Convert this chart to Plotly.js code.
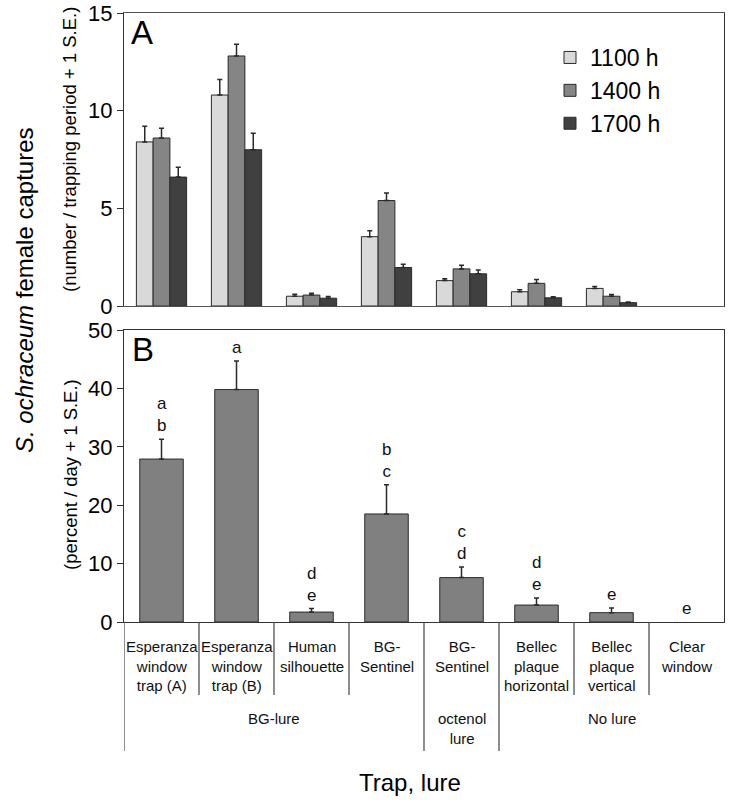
<!DOCTYPE html>
<html>
<head>
<meta charset="utf-8">
<script src="https://cdn.plot.ly/plotly-3.0.1.min.js"></script>
<style>html,body{margin:0;padding:0;background:#fff;}#chart{width:732px;height:804px;}</style>
</head>
<body>
<div id="chart"></div>
<script>
// ---- Data ----
const categories = [
  "Esperanza<br>window<br>trap (A)",
  "Esperanza<br>window<br>trap (B)",
  "Human<br>silhouette",
  "BG-<br>Sentinel",
  "BG-<br>Sentinel",
  "Bellec<br>plaque<br>horizontal",
  "Bellec<br>plaque<br>vertical",
  "Clear<br>window"
];
const lureGroups = ["BG-lure", "octenol<br>lure", "No lure"];
const lureGroupStart = [0, 4, 5];
const lureGroupEnd = [3, 4, 7];

const seriesNames = ["1100 h", "1400 h", "1700 h"];
const a1100 = [8.4, 10.8, 0.5, 3.55, 1.3, 0.73, 0.9, 0];
const a1100se = [0.8, 0.8, 0.1, 0.3, 0.1, 0.1, 0.1, 0];
const a1400 = [8.6, 12.8, 0.56, 5.4, 1.9, 1.16, 0.5, 0];
const a1400se = [0.5, 0.6, 0.09, 0.38, 0.19, 0.2, 0.09, 0];
const a1700 = [6.6, 8.0, 0.4, 1.97, 1.65, 0.42, 0.17, 0];
const a1700se = [0.5, 0.85, 0.08, 0.17, 0.19, 0.05, 0.03, 0];

const bPercent = [27.9, 39.8, 1.7, 18.5, 7.6, 2.9, 1.6, 0];
const bPercentSe = [3.4, 4.9, 0.6, 5.0, 1.8, 1.2, 0.8, 0];
const bLetters = ["a<br>b", "a", "d<br>e", "b<br>c", "c<br>d", "d<br>e", "e", "e"];

const yTicksA = [0, 5, 10, 15];
const yTicksB = [0, 10, 20, 30, 40, 50];

// ---- Build ----
const FONT = "Liberation Sans, Arial, sans-serif";
const idx = categories.map((c, i) => i);
const fillsA = ["#d9d9d9", "#858585", "#404040"];
const valsA = [a1100, a1400, a1700];
const seA = [a1100se, a1400se, a1700se];
const outline = (v) => v.map(x => (x === 0 ? 0 : 1));
// hide error bars (and their caps) for empty bars
const errUp = (v, se) => se.map((s, i) => (v[i] === 0 ? NaN : s));
const errDown = (v) => v.map(x => (x === 0 ? NaN : 0));

const traces = valsA.map((v, k) => ({
  type: "bar", x: idx, y: v, name: seriesNames[k],
  xaxis: "x", yaxis: "y",
  marker: {color: fillsA[k], line: {color: "#2a2a2a", width: outline(v)}},
  error_y: {type: "data", array: errUp(v, seA[k]), arrayminus: errDown(v), symmetric: false,
            color: "#2a2a2a", thickness: 1.5, width: 2.5},
  hoverinfo: "skip"
}));
traces.push({
  type: "bar", x: idx, y: bPercent, name: "percent", showlegend: false,
  xaxis: "x2", yaxis: "y2", width: 0.58,
  marker: {color: "#808080", line: {color: "#2a2a2a", width: outline(bPercent)}},
  error_y: {type: "data", array: errUp(bPercent, bPercentSe), arrayminus: errDown(bPercent), symmetric: false,
            color: "#2a2a2a", thickness: 1.5, width: 2.5},
  hoverinfo: "skip"
});

// pixel helpers for paper coords (plot area: x 124..724, y 13..622)
const PX = (px) => (px - 124) / 600;
const PY = (py) => (622 - py) / 609;

const annotations = [];
// significance letters
bPercent.forEach((v, i) => {
  annotations.push({
    xref: "x2", yref: "y2", x: i, y: v + bPercentSe[i],
    text: bLetters[i], showarrow: false, xanchor: "center", yanchor: "bottom", yshift: 3,
    font: {family: FONT, size: 17, color: "#111"}, borderpad: 0
  });
});
// category labels
categories.forEach((c, i) => {
  annotations.push({
    xref: "x2", yref: "paper", x: i, y: PY(637), xanchor: "center", yanchor: "top",
    text: c, showarrow: false, font: {family: FONT, size: 15, color: "#111"}, borderpad: 0
  });
});
// lure group labels
lureGroups.forEach((g, k) => {
  annotations.push({
    xref: "x2", yref: "paper", x: (lureGroupStart[k] + lureGroupEnd[k]) / 2, y: PY(709),
    xanchor: "center", yanchor: "top",
    text: g, showarrow: false, font: {family: FONT, size: 15, color: "#111"}, borderpad: 0
  });
});
const pa = (px, py, text, size, extra) => Object.assign({xref: "paper", yref: "paper",
  x: PX(px), y: PY(py), xanchor: "center", yanchor: "middle", text: text, showarrow: false,
  font: {family: FONT, size: size, color: "#000"}}, extra || {});
// panel letters
annotations.push(pa(142, 33, "A", 33));
annotations.push(pa(143, 349, "B", 33));
// axis titles
annotations.push(pa(24, 290, "<i>S. ochraceum</i> female captures", 24, {textangle: -90}));
annotations.push(pa(70, 150, "(number / trapping period + 1 S.E.)", 18.5, {textangle: -90}));
annotations.push(pa(70, 475, "(percent / day + 1 S.E.)", 18.5, {textangle: -90}));
annotations.push(pa(410, 782, "Trap, lure", 24));

// table lines
const shapes = [];
const lineStyle = {color: "#444", width: 1.2};
shapes.push({type: "line", xref: "x2", yref: "paper", x0: -0.5, x1: -0.5, y0: 0, y1: PY(751), line: lineStyle});
for (let b = 0; b < categories.length - 1; b++) {
  const boundary = b + 0.5;
  const isGroup = lureGroupEnd.slice(0, -1).some(e => e + 0.5 === boundary);
  shapes.push({type: "line", xref: "x2", yref: "paper", x0: boundary, x1: boundary,
    y0: 0, y1: isGroup ? PY(751) : PY(695), line: lineStyle});
}

const axisCommon = {showline: true, linecolor: "#333", linewidth: 1.2, zeroline: false, showgrid: false,
  fixedrange: true};
const layout = {
  width: 732, height: 804,
  margin: {l: 124, r: 8, t: 13, b: 182},
  paper_bgcolor: "#fff", plot_bgcolor: "#fff",
  font: {family: FONT, color: "#000"},
  barmode: "group", bargap: 0.33, bargroupgap: 0,
  showlegend: true,
  legend: {x: PX(550), y: PY(36), xanchor: "left", yanchor: "top", bgcolor: "rgba(0,0,0,0)",
    font: {family: FONT, size: 23, color: "#000"}, itemwidth: 30, tracegroupgap: 0},
  xaxis: Object.assign({}, axisCommon, {anchor: "y", range: [-0.5, 7.5], showticklabels: false,
    ticks: "", mirror: true, linecolor: "#555"}),
  yaxis: Object.assign({}, axisCommon, {anchor: "x", domain: [PY(306), 1], range: [0, 15],
    tickvals: yTicksA, ticktext: yTicksA.map(String), ticks: "outside", ticklen: 6, tickcolor: "#333",
    mirror: true, tickfont: {family: FONT, size: 22, color: "#000"}}),
  xaxis2: Object.assign({}, axisCommon, {anchor: "y2", range: [-0.5, 7.5], showticklabels: false,
    ticks: "", mirror: true}),
  yaxis2: Object.assign({}, axisCommon, {anchor: "x2", domain: [0, PY(330)], range: [0, 50],
    tickvals: yTicksB, ticktext: yTicksB.map(String), ticks: "outside", ticklen: 6, tickcolor: "#333",
    mirror: true, tickfont: {family: FONT, size: 22, color: "#000"}}),
  annotations: annotations,
  shapes: shapes
};

Plotly.newPlot("chart", traces, layout, {displayModeBar: false, staticPlot: true});
</script>
</body>
</html>
